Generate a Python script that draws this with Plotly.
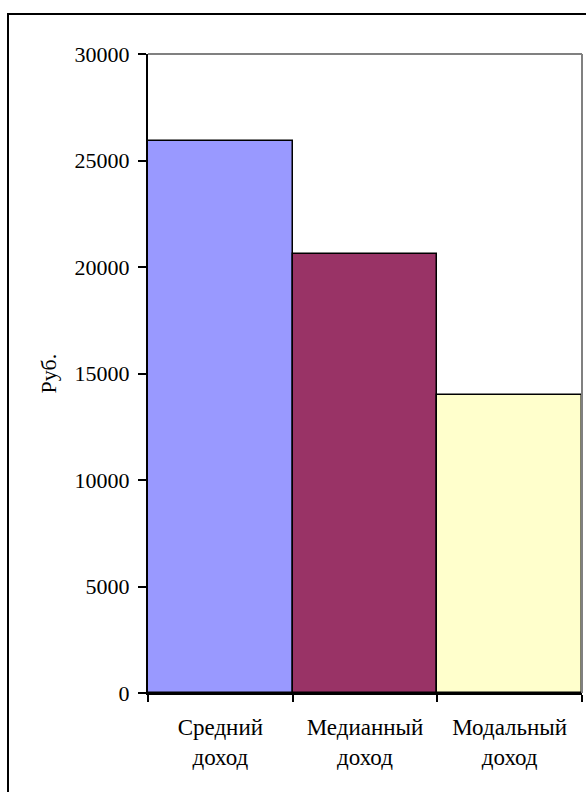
import plotly.graph_objects as go

# Income statistics, rubles
categories = ["Средний<br>доход", "Медианный<br>доход", "Модальный<br>доход"]
values = [25900, 20600, 14000]
bar_colors = ["#9999FF", "#993366", "#FFFFCC"]
y_ticks = [0, 5000, 10000, 15000, 20000, 25000, 30000]
y_title = "Руб."

W, H = 586, 792
ML, MR, MT, MB = 148, 4, 54, 99
plot_w = W - ML - MR
plot_h = H - MT - MB

FONT = "Liberation Serif, Times New Roman, serif"

fig = go.Figure(
    go.Bar(
        x=categories,
        y=values,
        marker=dict(color=bar_colors, line=dict(color="black", width=1.5)),
        width=1.0,
    )
)

fig.update_layout(
    width=W,
    height=H,
    margin=dict(l=ML, r=MR, t=MT, b=MB),
    paper_bgcolor="white",
    plot_bgcolor="white",
    showlegend=False,
    bargap=0,
    font=dict(family=FONT, size=22, color="black"),
    xaxis=dict(
        type="category",
        tickson="boundaries",
        ticks="outside",
        ticklen=7,
        tickwidth=1.5,
        tickcolor="black",
        showline=True,
        linecolor="black",
        linewidth=2,
        showgrid=False,
        ticklabelstandoff=12,
        tickfont=dict(family=FONT, size=23, color="black"),
    ),
    yaxis=dict(
        range=[0, 30000],
        tickvals=y_ticks,
        ticktext=[str(v) for v in y_ticks],
        ticks="outside",
        ticklen=8,
        tickwidth=1.5,
        tickcolor="black",
        showline=True,
        linecolor="black",
        linewidth=2,
        showgrid=False,
        zeroline=False,
        ticklabelstandoff=4,
        tickfont=dict(family=FONT, size=22, color="black"),
    ),
    # companion axis that draws the inner half of the crossing tick marks
    yaxis2=dict(
        overlaying="y",
        side="left",
        range=[0, 30000],
        tickvals=y_ticks,
        ticks="inside",
        ticklen=6,
        tickwidth=1.5,
        tickcolor="black",
        showticklabels=False,
        showline=False,
        showgrid=False,
        zeroline=False,
    ),
)

# gray frame on the top and right of the plot area
fig.add_shape(type="line", xref="paper", yref="paper", x0=0, x1=1, y0=1, y1=1,
              line=dict(color="#808080", width=2))
fig.add_shape(type="line", xref="paper", yref="paper", x0=1, x1=1, y0=0, y1=1,
              line=dict(color="#808080", width=2))

# outer chart frame
fig.add_shape(type="rect", xref="paper", yref="paper",
              x0=(8 - ML) / plot_w, x1=(W + 10 - ML) / plot_w,
              y0=(H - MB - (H + 10)) / plot_h, y1=(H - MB - 14) / plot_h,
              line=dict(color="black", width=2), fillcolor="rgba(0,0,0,0)")

# axis title
fig.add_annotation(text=y_title, xref="paper", yref="paper",
                   x=(48 - ML) / plot_w, y=0.5, textangle=-90,
                   xanchor="center", yanchor="middle", showarrow=False,
                   font=dict(family=FONT, size=22, color="black"))

fig.write_html("out.html")
